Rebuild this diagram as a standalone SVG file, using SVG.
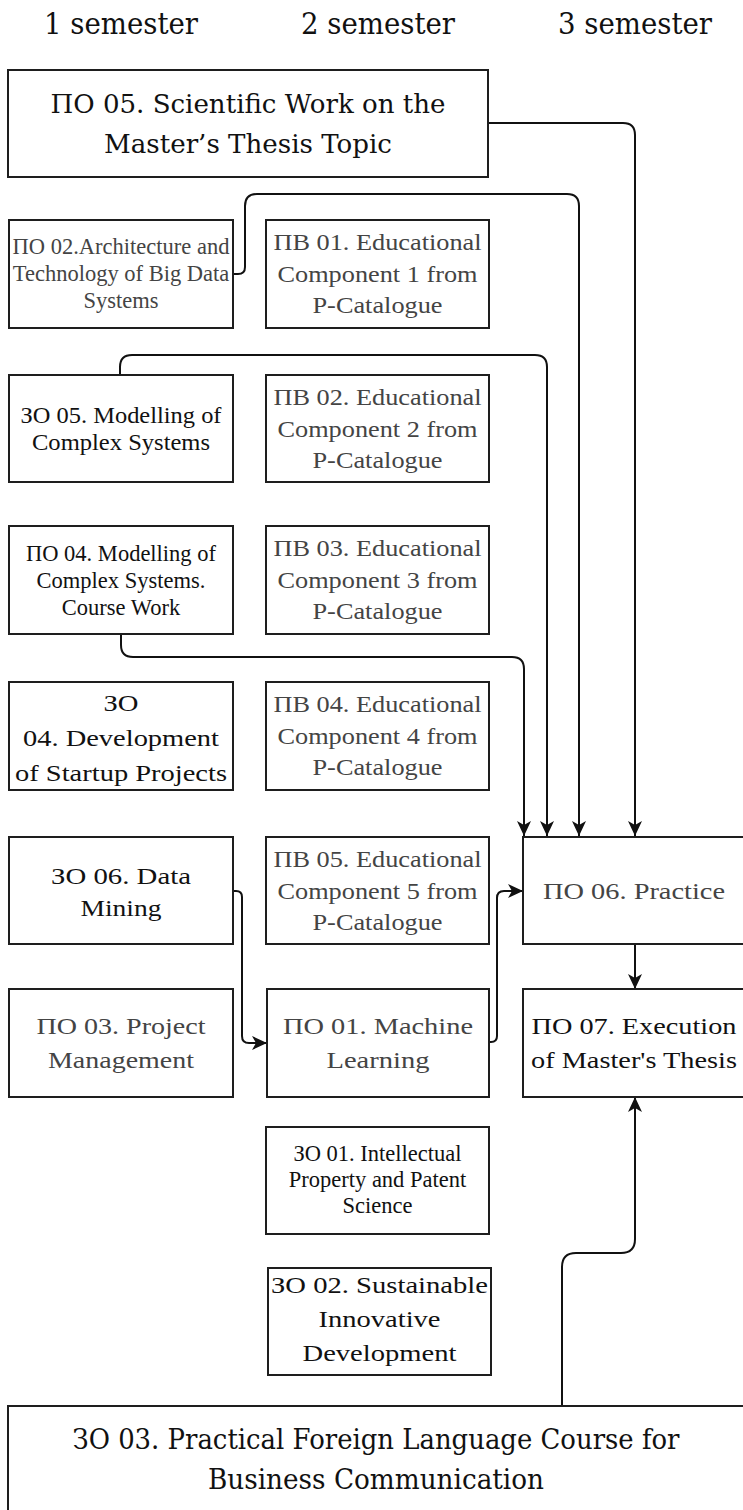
<svg xmlns="http://www.w3.org/2000/svg" width="743" height="1510" viewBox="0 0 743 1510">
<defs>
<style>
.box{fill:#ffffff;stroke:#1e1e1e;stroke-width:2}
.s{font-family:"Liberation Serif","Times New Roman",serif;text-anchor:middle}
.d{font-family:"DejaVu Serif",serif;text-anchor:middle}
.g{fill:#444444}
.k{fill:#111111}
.conn{fill:none;stroke:#111111;stroke-width:2}
</style>
<marker id="arr" markerUnits="userSpaceOnUse" markerWidth="16" markerHeight="14" refX="15" refY="7" orient="auto">
<path d="M0,0 L15,7 L0,14 L4,7 Z" fill="#111111"/>
</marker>
</defs>
<rect width="743" height="1510" fill="#ffffff"/>

<g id="headers" font-size="29">
<text class="d k" x="121" y="34" textLength="154" lengthAdjust="spacingAndGlyphs">1 semester</text>
<text class="d k" x="378" y="34" textLength="154" lengthAdjust="spacingAndGlyphs">2 semester</text>
<text class="d k" x="635" y="34" textLength="154" lengthAdjust="spacingAndGlyphs">3 semester</text>
</g>

<g id="connectors">
<path class="conn" d="M488,123 H623 Q635,123 635,135 V836" marker-end="url(#arr)"/>
<path class="conn" d="M233,274 H238 Q245,274 245,267 V206 Q245,194 257,194 H567 Q579,194 579,206 V836" marker-end="url(#arr)"/>
<path class="conn" d="M120,375 V367 Q120,355 132,355 H535 Q547,355 547,367 V836" marker-end="url(#arr)"/>
<path class="conn" d="M121,634 V645 Q121,657 133,657 H512 Q524,657 524,669 V836" marker-end="url(#arr)"/>
<path class="conn" d="M233,891 H236 Q242,891 242,897 V1036 Q242,1043 249,1043 H267" marker-end="url(#arr)"/>
<path class="conn" d="M489,1042 H491 Q497,1042 497,1036 V898 Q497,891 504,891 H523" marker-end="url(#arr)"/>
<path class="conn" d="M635,944 V989" marker-end="url(#arr)"/>
<path class="conn" d="M562,1406 V1267 Q562,1253 576,1253 H621 Q635,1253 635,1239 V1097" marker-end="url(#arr)"/>
</g>

<g id="n_po05" font-size="26">
<rect class="box" x="8" y="70" width="480" height="107"/>
<text class="d k" x="248" y="113" textLength="395" lengthAdjust="spacingAndGlyphs">ПО 05. Scientific Work on the</text>
<text class="d k" x="248" y="153" textLength="288" lengthAdjust="spacingAndGlyphs">Master’s Thesis Topic</text>
</g>

<g id="n_po02" font-size="22.5">
<rect class="box" x="9" y="220" width="224" height="108"/>
<text class="s g" x="121" y="254">ПО 02.Architecture and</text>
<text class="s g" x="121" y="281">Technology of Big Data</text>
<text class="s g" x="121" y="308">Systems</text>
</g>

<g id="n_pv01" font-size="23">
<rect class="box" x="266" y="220" width="223" height="108"/>
<text class="s g" x="377.5" y="250" textLength="208" lengthAdjust="spacingAndGlyphs">ПВ 01. Educational</text>
<text class="s g" x="377.5" y="282" textLength="200" lengthAdjust="spacingAndGlyphs">Component 1 from</text>
<text class="s g" x="377.5" y="313" textLength="130" lengthAdjust="spacingAndGlyphs">P-Catalogue</text>
</g>

<g id="n_zo05" font-size="23">
<rect class="box" x="9" y="375" width="224" height="107"/>
<text class="s k" x="121" y="423" textLength="201" lengthAdjust="spacingAndGlyphs">ЗО 05. Modelling of</text>
<text class="s k" x="121" y="450" textLength="178" lengthAdjust="spacingAndGlyphs">Complex Systems</text>
</g>

<g id="n_pv02" font-size="23">
<rect class="box" x="266" y="375" width="223" height="107"/>
<text class="s g" x="377.5" y="405" textLength="208" lengthAdjust="spacingAndGlyphs">ПВ 02. Educational</text>
<text class="s g" x="377.5" y="437" textLength="200" lengthAdjust="spacingAndGlyphs">Component 2 from</text>
<text class="s g" x="377.5" y="468" textLength="130" lengthAdjust="spacingAndGlyphs">P-Catalogue</text>
</g>

<g id="n_po04" font-size="22.5">
<rect class="box" x="9" y="526" width="224" height="108"/>
<text class="s k" x="121" y="561">ПО 04. Modelling of</text>
<text class="s k" x="121" y="588">Complex Systems.</text>
<text class="s k" x="121" y="615">Course Work</text>
</g>

<g id="n_pv03" font-size="23">
<rect class="box" x="266" y="526" width="223" height="108"/>
<text class="s g" x="377.5" y="556" textLength="208" lengthAdjust="spacingAndGlyphs">ПВ 03. Educational</text>
<text class="s g" x="377.5" y="588" textLength="200" lengthAdjust="spacingAndGlyphs">Component 3 from</text>
<text class="s g" x="377.5" y="619" textLength="130" lengthAdjust="spacingAndGlyphs">P-Catalogue</text>
</g>

<g id="n_zo04" font-size="23">
<rect class="box" x="9" y="682" width="224" height="108"/>
<text class="s k" x="121" y="711" textLength="35" lengthAdjust="spacingAndGlyphs">ЗО</text>
<text class="s k" x="121" y="746" textLength="196" lengthAdjust="spacingAndGlyphs">04. Development</text>
<text class="s k" x="121" y="781" textLength="212" lengthAdjust="spacingAndGlyphs">of Startup Projects</text>
</g>

<g id="n_pv04" font-size="23">
<rect class="box" x="266" y="682" width="223" height="108"/>
<text class="s g" x="377.5" y="712" textLength="208" lengthAdjust="spacingAndGlyphs">ПВ 04. Educational</text>
<text class="s g" x="377.5" y="744" textLength="200" lengthAdjust="spacingAndGlyphs">Component 4 from</text>
<text class="s g" x="377.5" y="775" textLength="130" lengthAdjust="spacingAndGlyphs">P-Catalogue</text>
</g>

<g id="n_zo06" font-size="23">
<rect class="box" x="9" y="837" width="224" height="107"/>
<text class="s k" x="121" y="884" textLength="140" lengthAdjust="spacingAndGlyphs">ЗО 06. Data</text>
<text class="s k" x="121" y="916" textLength="81" lengthAdjust="spacingAndGlyphs">Mining</text>
</g>

<g id="n_pv05" font-size="23">
<rect class="box" x="266" y="837" width="223" height="107"/>
<text class="s g" x="377.5" y="867" textLength="208" lengthAdjust="spacingAndGlyphs">ПВ 05. Educational</text>
<text class="s g" x="377.5" y="899" textLength="200" lengthAdjust="spacingAndGlyphs">Component 5 from</text>
<text class="s g" x="377.5" y="930" textLength="130" lengthAdjust="spacingAndGlyphs">P-Catalogue</text>
</g>

<g id="n_po06" font-size="23">
<rect class="box" x="523" y="837" width="222" height="107"/>
<text class="s g" x="634" y="899" textLength="182" lengthAdjust="spacingAndGlyphs">ПО 06. Practice</text>
</g>

<g id="n_po03" font-size="23">
<rect class="box" x="9" y="989" width="224" height="108"/>
<text class="s g" x="121" y="1034" textLength="169" lengthAdjust="spacingAndGlyphs">ПО 03. Project</text>
<text class="s g" x="121" y="1068" textLength="146" lengthAdjust="spacingAndGlyphs">Management</text>
</g>

<g id="n_po01" font-size="23">
<rect class="box" x="267" y="989" width="222" height="108"/>
<text class="s g" x="378" y="1034" textLength="190" lengthAdjust="spacingAndGlyphs">ПО 01. Machine</text>
<text class="s g" x="378" y="1068" textLength="103" lengthAdjust="spacingAndGlyphs">Learning</text>
</g>

<g id="n_po07" font-size="23">
<rect class="box" x="523" y="989" width="222" height="108"/>
<text class="s k" x="634" y="1034" textLength="205" lengthAdjust="spacingAndGlyphs">ПО 07. Execution</text>
<text class="s k" x="634" y="1068" textLength="206" lengthAdjust="spacingAndGlyphs">of Master's Thesis</text>
</g>

<g id="n_zo01" font-size="22.5">
<rect class="box" x="266" y="1127" width="223" height="107"/>
<text class="s k" x="377.5" y="1161">ЗО 01. Intellectual</text>
<text class="s k" x="377.5" y="1187">Property and Patent</text>
<text class="s k" x="377.5" y="1213">Science</text>
</g>

<g id="n_zo02" font-size="23">
<rect class="box" x="268" y="1268" width="223" height="107"/>
<text class="s k" x="379.5" y="1293" textLength="217" lengthAdjust="spacingAndGlyphs">ЗО 02. Sustainable</text>
<text class="s k" x="379.5" y="1327" textLength="122" lengthAdjust="spacingAndGlyphs">Innovative</text>
<text class="s k" x="379.5" y="1361" textLength="154" lengthAdjust="spacingAndGlyphs">Development</text>
</g>

<g id="n_zo03" font-size="27">
<rect class="box" x="8" y="1406" width="737" height="110"/>
<text class="d k" x="376" y="1449" textLength="607" lengthAdjust="spacingAndGlyphs">ЗО 03. Practical Foreign Language Course for</text>
<text class="d k" x="376" y="1489" textLength="336" lengthAdjust="spacingAndGlyphs">Business Communication</text>
</g>
</svg>
